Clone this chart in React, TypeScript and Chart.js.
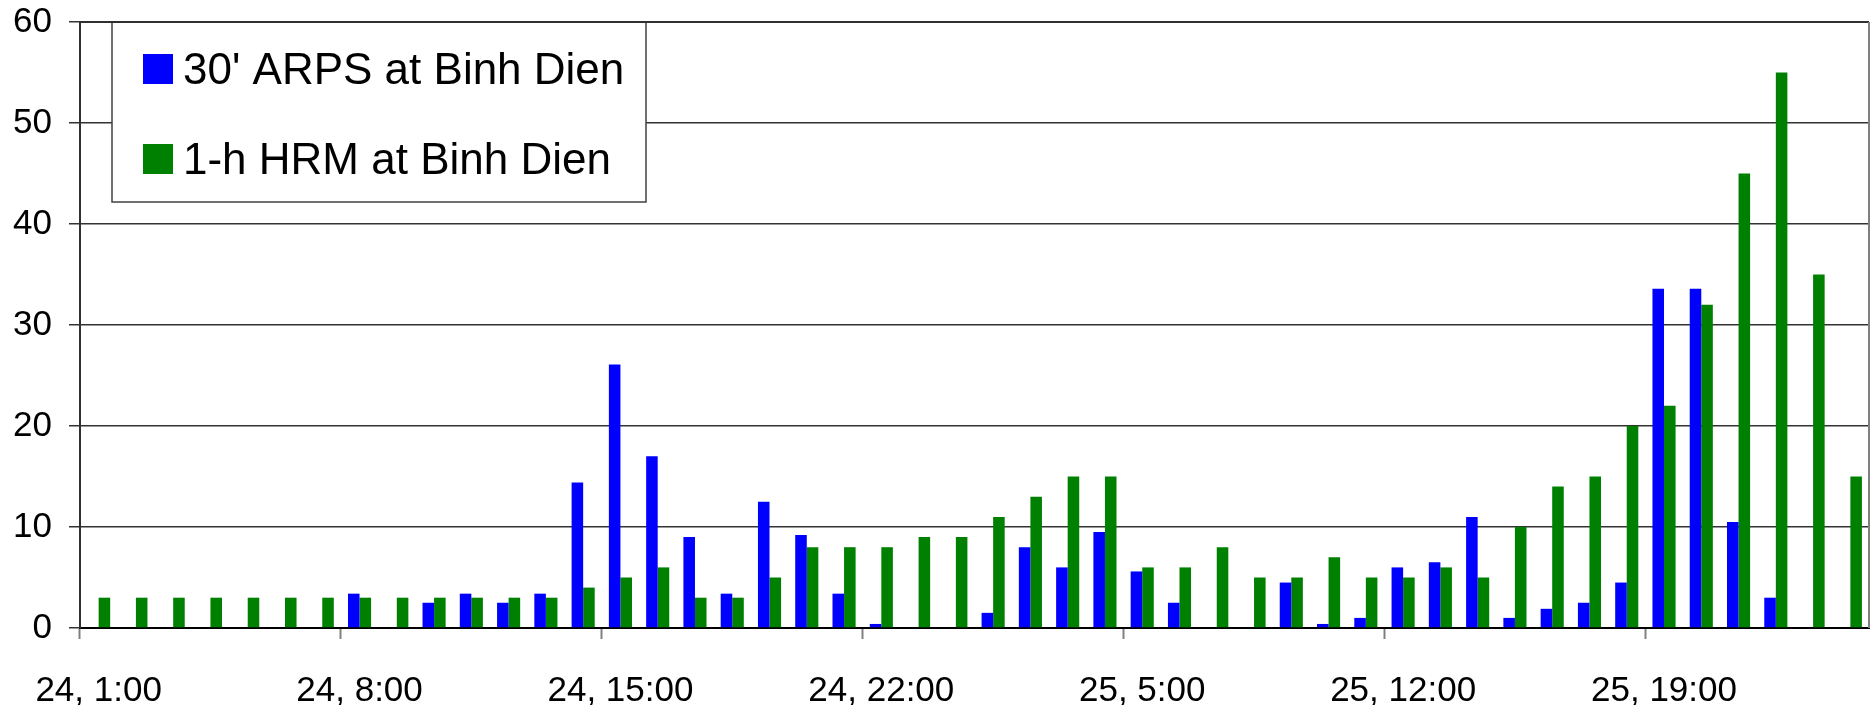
import React, { useEffect, useRef } from 'react';
import { Chart, registerables } from 'chart.js';

Chart.register(...registerables);

const categories = [
  '24, 1:00', '24, 2:00', '24, 3:00', '24, 4:00', '24, 5:00', '24, 6:00', '24, 7:00',
  '24, 8:00', '24, 9:00', '24, 10:00', '24, 11:00', '24, 12:00', '24, 13:00', '24, 14:00',
  '24, 15:00', '24, 16:00', '24, 17:00', '24, 18:00', '24, 19:00', '24, 20:00', '24, 21:00',
  '24, 22:00', '24, 23:00', '25, 0:00', '25, 1:00', '25, 2:00', '25, 3:00', '25, 4:00',
  '25, 5:00', '25, 6:00', '25, 7:00', '25, 8:00', '25, 9:00', '25, 10:00', '25, 11:00',
  '25, 12:00', '25, 13:00', '25, 14:00', '25, 15:00', '25, 16:00', '25, 17:00', '25, 18:00',
  '25, 19:00', '25, 20:00', '25, 21:00', '25, 22:00', '25, 23:00', '26, 0:00',
];

const arpsValues: (number | null)[] = [
  null, null, null, null, null, null, null,
  3.4, null, 2.5, 3.4, 2.5, 3.4, 14.4,
  26.1, 17, 9, 3.4, 12.5, 9.2, 3.4,
  0.4, null, null, 1.5, 8, 6, 9.5,
  5.6, 2.5, null, null, 4.5, 0.4, 1,
  6, 6.5, 11, 1, 1.9, 2.5, 4.5,
  33.6, 33.6, 10.5, 3, null, null,
];

const hrmValues: (number | null)[] = [
  3, 3, 3, 3, 3, 3, 3,
  3, 3, 3, 3, 3, 3, 4,
  5, 6, 3, 3, 5, 8, 8,
  8, 9, 9, 11, 13, 15, 15,
  6, 6, 8, 5, 5, 7, 5,
  5, 6, 5, 10, 14, 15, 20,
  22, 32, 45, 55, 35, 15,
];

const yTicks = [0, 10, 20, 30, 40, 50, 60];
const seriesLabels = ["30' ARPS at Binh Dien", '1-h HRM at Binh Dien'];
const seriesColors = ['#0000FF', '#008000'];
const labelEvery = 7;

const FONT = '"Liberation Sans", Arial, Helvetica, sans-serif';

const framePlugin = {
  id: 'frameAndLegend',
  afterDatasetsDraw(chart: any) {
    const { ctx, chartArea } = chart;
    const { left, top, right, bottom } = chartArea;
    ctx.save();
    // legend box
    const bx = left + 32;
    const by = top;
    const bw = 534;
    const bh = 180;
    ctx.fillStyle = '#ffffff';
    ctx.fillRect(bx, by, bw, bh);
    ctx.strokeStyle = '#404040';
    ctx.lineWidth = 1.5;
    ctx.strokeRect(bx, by, bw, bh);
    const rows = [62, 152];
    chart.data.datasets.forEach((ds: any, i: number) => {
      const base = by + rows[i];
      ctx.fillStyle = ds.backgroundColor;
      ctx.fillRect(bx + 31, base - 30, 30, 30);
      ctx.fillStyle = '#000000';
      ctx.font = `44px ${FONT}`;
      ctx.textBaseline = 'alphabetic';
      ctx.textAlign = 'left';
      ctx.fillText(ds.label, bx + 71, base);
    });
    // top and right frame
    ctx.strokeStyle = '#303030';
    ctx.lineWidth = 2;
    ctx.beginPath();
    ctx.moveTo(left, top);
    ctx.lineTo(right, top);
    ctx.stroke();
    ctx.strokeStyle = '#808080';
    ctx.beginPath();
    ctx.moveTo(right, top);
    ctx.lineTo(right, bottom);
    ctx.stroke();
    ctx.restore();
  },
};

const zeroPad = (s: any) => {
  s.paddingTop = 0;
  s.paddingBottom = 0;
  s.paddingLeft = 0;
  s.paddingRight = 0;
};

export default function App() {
  const canvasRef = useRef<HTMLCanvasElement | null>(null);

  useEffect(() => {
    document.body.style.margin = '0';
    const canvas = canvasRef.current;
    if (!canvas) return;
    const chart = new Chart(canvas, {
      type: 'bar',
      data: {
        labels: categories,
        datasets: [
          {
            label: seriesLabels[0],
            data: arpsValues,
            backgroundColor: seriesColors[0],
            borderWidth: 0,
            categoryPercentage: 0.62,
            barPercentage: 1.0,
          },
          {
            label: seriesLabels[1],
            data: hrmValues,
            backgroundColor: seriesColors[1],
            borderWidth: 0,
            categoryPercentage: 0.62,
            barPercentage: 1.0,
          },
        ],
      },
      options: {
        responsive: false,
        animation: false,
        devicePixelRatio: 1,
        layout: { padding: { top: 22, right: 6, left: 0, bottom: 0 } },
        plugins: {
          legend: { display: false },
          tooltip: { enabled: false },
        },
        scales: {
          x: {
            grid: {
              offset: true,
              drawOnChartArea: false,
              drawTicks: true,
              tickLength: 11,
              tickWidth: 2,
              tickColor: (c: any) => (c.index % labelEvery === 0 ? '#808080' : 'rgba(0,0,0,0)'),
            },
            border: { display: true, color: '#000000', width: 2 },
            ticks: {
              autoSkip: false,
              maxRotation: 0,
              minRotation: 0,
              padding: 31,
              color: '#000000',
              font: { family: FONT, size: 35 },
              callback: (_v: any, i: number) => (i % labelEvery === 0 ? categories[i] : ''),
            },
            afterFit: (s: any) => {
              s.height = 77;
              zeroPad(s);
            },
          },
          y: {
            min: yTicks[0],
            max: yTicks[yTicks.length - 1],
            afterBuildTicks: (s: any) => {
              s.ticks = yTicks.map((v) => ({ value: v }));
            },
            ticks: {
              padding: 17,
              color: '#000000',
              font: { family: FONT, size: 35 },
            },
            grid: {
              color: '#333333',
              lineWidth: 1.5,
              tickLength: 11,
              tickColor: '#333333',
            },
            border: { display: true, color: '#303030', width: 2 },
            afterFit: (s: any) => {
              s.width = 80;
              zeroPad(s);
            },
          },
        },
      },
      plugins: [framePlugin],
    });
    return () => chart.destroy();
  }, []);

  return (
    <div style={{ width: 1875, height: 705 }}>
      <canvas ref={canvasRef} width={1875} height={705} style={{ display: 'block' }} />
    </div>
  );
}
